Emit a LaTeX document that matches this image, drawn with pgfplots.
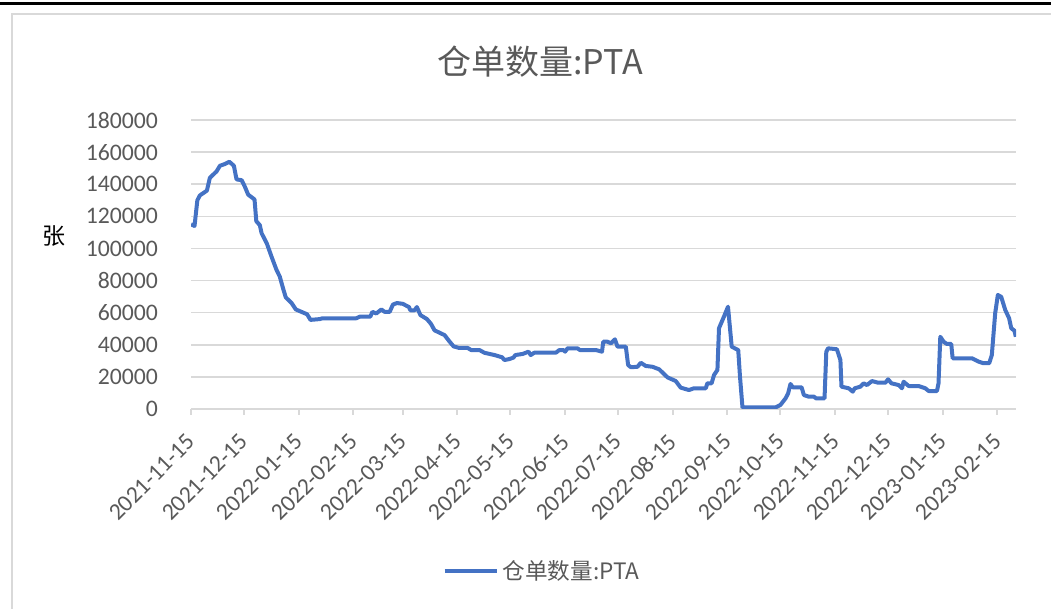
\documentclass[border=0pt]{standalone}
\usepackage{fontspec}
\setmainfont{Carlito}
\newfontfamily\cjk{Noto Sans CJK SC}
\usepackage{pgfplots}
\usepackage{pgfplotstable}
\pgfplotsset{compat=1.18}
\definecolor{linblue}{HTML}{4472C4}
\definecolor{txtgray}{HTML}{595959}
\definecolor{gridgray}{HTML}{D9D9D9}

% day = days since 2021-11-15, value = 张
\pgfplotstableread{
day value
0 115000
2 114000
3.6 130000
5 133000
9 136000
10.7 144000
14.5 148000
16.4 151500
19 152500
21.7 154000
24.3 151500
25.8 143000
28.7 142500
30.5 138500
32.4 133500
36 130500
37 117000
39 114500
40 109500
43 103000
45.6 95000
48.5 86500
50.3 82500
52.2 75000
53.7 69500
57 66000
59.4 62000
62.6 60500
65.8 59000
67.7 55500
73 56000
74.5 56500
93.7 56500
95.6 57500
101.6 57500
102.8 60500
105 59500
107.9 62000
109.7 60500
112.6 60500
114.4 65000
116.7 66000
120 65500
123.5 63500
124.3 61500
126.7 61500
128 63500
130 58500
133.7 56000
136 53000
138 49000
143.7 46000
146.5 42000
148.8 39000
152 38000
156.8 38000
158.8 36700
163.5 36700
166.3 35000
172 33600
176.3 32200
177.6 30500
180.4 31100
182.7 32000
183.8 33600
188 34300
191.3 35700
192.5 33600
194.6 35100
206.8 35100
208.7 36700
211 36700
212 35700
213.4 37800
219 37800
220.4 36700
229.5 36700
232.9 35700
233.6 41900
236 41900
238 40900
240.2 43400
241.7 38800
246.4 38800
247.7 27400
249.3 26000
253 26300
254.9 28800
257.7 26800
261.5 26300
265.3 24700
270 19700
274.7 17400
277.5 13300
282.2 11800
285 12900
291.7 12900
292.6 16000
295 16000
296.4 21200
298.3 24300
299.2 50300
302 57500
304.3 63700
306.4 38800
310.1 36700
311.1 20100
312.5 1000
331.3 1000
334 2500
336.9 6600
338.4 9800
339.7 15600
341 13500
346 13500
347.3 8700
350 7700
353 7700
354.2 6600
359 6600
360 35700
361 37800
366 37200
368 30500
368.6 13900
372.7 12900
375 10800
376.1 12900
379.3 13900
381.2 16000
383 14900
385.9 17400
389.3 16400
393.5 16400
395 18500
396.9 16000
401 14900
402.9 12900
403.8 17000
406.7 14300
412.3 14300
416.1 12900
418 11200
422.7 11200
423.6 16000
424.6 45000
426.5 41900
428.3 40500
430.8 40500
431.6 31600
442.5 31600
446.3 29500
449.1 28500
452.3 28500
453.8 33600
455.7 59600
457.2 71000
459.1 69900
461.4 61700
463.6 56500
464.8 50300
466.6 48800
467.4 45000
}\ptadata

\begin{document}
\begin{tikzpicture}[x=1pt,y=1pt]
\path[use as bounding box] (0,0) rectangle (525.5,304.5);
\draw[black, line width=1.5pt] (0,302.5) -- (525.5,302.5);
\draw[gridgray, line width=0.75pt] (6,0) -- (6,297.5) -- (525.5,297.5);
\node[txtgray, font=\cjk\fontsize{17}{20}\selectfont] at (270,273.5) {仓单数量:PTA};
\node[black, font=\cjk\fontsize{11.5}{14}\selectfont] at (27,186.5) {张};
\begin{axis}[
  at={(95.5pt,100pt)}, anchor=south west,
  scale only axis, width=412.5pt, height=144.5pt,
  xmin=0, xmax=467.5, ymin=0, ymax=180000,
  axis x line*=bottom, axis y line*=left,
  x axis line style={-, draw=gridgray, line width=1pt},
  y axis line style={draw=none},
  xtick={0,30,61,92,120,151,181,212,242,273,304,334,365,395,426,457},
  xticklabels={2021-11-15,2021-12-15,2022-01-15,2022-02-15,2022-03-15,2022-04-15,2022-05-15,2022-06-15,2022-07-15,2022-08-15,2022-09-15,2022-10-15,2022-11-15,2022-12-15,2023-01-15,2023-02-15},
  xtick style={draw=gridgray, line width=1pt},
  tick align=outside, major tick length=3pt,
  ytick={0,20000,...,180000},
  scaled y ticks=false,
  ytick style={draw=none},
  ymajorgrids, grid style={draw=gridgray, line width=0.75pt},
  /pgf/number format/.cd, fixed, 1000 sep={}, assume math mode=true,
  /pgfplots/.cd,
  ticklabel style={font=\fontsize{11.85}{14}\selectfont, text=txtgray},
  xticklabel style={xshift=2.5pt, yshift=-9pt, rotate=45, anchor=east},
  yticklabel style={xshift=-10pt},
  legend style={at={(0.4267,-0.5606)}, anchor=center, draw=none, fill=none,
    font=\cjk\fontsize{11.3}{13}\selectfont, text=txtgray},
  legend image code/.code={\draw[#1] (0pt,0pt) -- (26pt,0pt);},
]
\addplot[linblue, line width=2pt, line join=round, no markers] table[x=day, y=value] {\ptadata};
\addlegendentry{仓单数量:PTA}
\end{axis}
\end{tikzpicture}
\end{document}
